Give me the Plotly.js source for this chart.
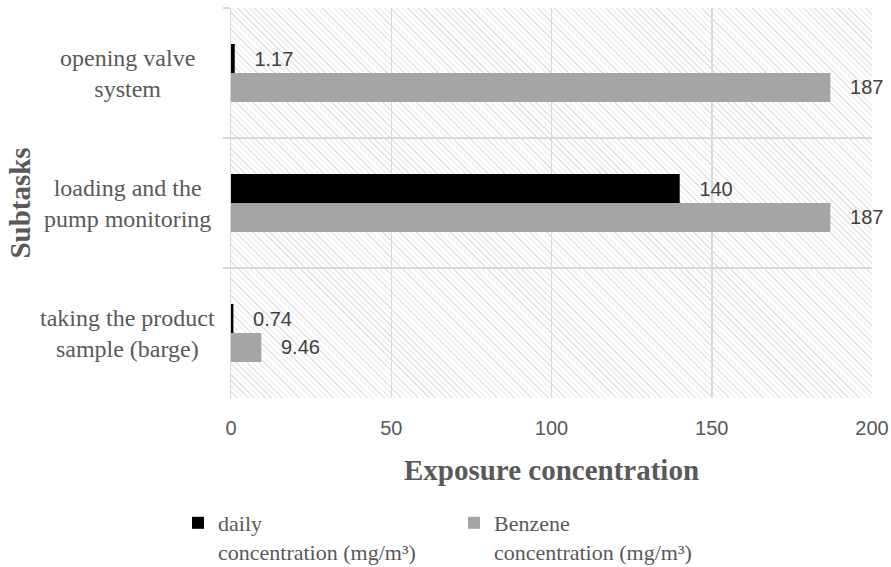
<!DOCTYPE html>
<html>
<head>
<meta charset="utf-8">
<script src="https://cdn.plot.ly/plotly-3.0.1.min.js"></script>
<style>
  html, body { margin: 0; padding: 0; background: #ffffff; }
  #wrap { position: relative; width: 891px; height: 567px; }
  #hatch { position: absolute; z-index: 0;
    background: repeating-linear-gradient(45deg, #e3e3e3 0px, #e3e3e3 1px, rgba(255,255,255,0) 1px, rgba(255,255,255,0) 4px); }
  #chart { position: absolute; left: 0; top: 0; width: 891px; height: 567px; z-index: 1; }
</style>
</head>
<body>
<div id="wrap"><div id="hatch"></div><div id="chart"></div></div>
<script>
// ---- data ----
const categories = ['opening valve system', 'loading and the pump monitoring', 'taking the product sample (barge)'];
const categoryLabels = ['opening valve<br>system', 'loading and the<br>pump monitoring', 'taking the product<br>sample (barge)'];
const dailyValues = [1.17, 140, 0.74];
const benzeneValues = [187, 187, 9.46];
const seriesNames = ['daily<br>concentration (mg/m³)', 'Benzene<br>concentration (mg/m³)'];
const xTickVals = [0, 50, 100, 150, 200];
const xTitle = 'Exposure concentration';
const yTitle = 'Subtasks';

const serif = 'Liberation Serif, Times New Roman, serif';
const sans = 'Liberation Sans, Arial, sans-serif';
const pad = '\u00a0\u00a0\u00a0';

const traces = [
  {
    type: 'bar', orientation: 'h', name: seriesNames[0],
    y: categories, x: dailyValues,
    text: dailyValues.map(String), texttemplate: pad + '%{text}',
    textposition: 'outside', cliponaxis: false, constraintext: 'none',
    textfont: { family: sans, size: 20, color: '#404040' },
    marker: { color: '#000000' }, hoverinfo: 'x'
  },
  {
    type: 'bar', orientation: 'h', name: seriesNames[1],
    y: categories, x: benzeneValues,
    text: benzeneValues.map(String), texttemplate: pad + '%{text}',
    textposition: 'outside', cliponaxis: false, constraintext: 'none',
    textfont: { family: sans, size: 20, color: '#404040' },
    marker: { color: '#a5a5a5' }, hoverinfo: 'x'
  }
];

const margin = { l: 231, r: 19, t: 8, b: 169, autoexpand: false };
const plotW = 891 - margin.l - margin.r;
const plotH = 567 - margin.t - margin.b;

const annotations = categories.map((c, i) => ({
  xref: 'paper', yref: 'y', x: (127 - margin.l) / plotW, y: c,
  text: categoryLabels[i], showarrow: false, xanchor: 'center', yanchor: 'middle',
  align: 'center', font: { family: serif, size: 24, color: '#595959' }
}));

const layout = {
  width: 891, height: 567, margin: margin,
  paper_bgcolor: 'rgba(0,0,0,0)', plot_bgcolor: 'rgba(0,0,0,0)',
  barmode: 'group', bargap: 0.554, bargroupgap: 0,
  showlegend: true,
  legend: {
    orientation: 'h', x: (178 - margin.l) / plotW, xanchor: 'left',
    y: -(502 - (margin.t + plotH)) / plotH, yanchor: 'top',
    valign: 'top', entrywidth: 231, entrywidthmode: 'pixels',
    font: { family: serif, size: 22, color: '#595959' },
    bgcolor: 'rgba(0,0,0,0)', itemclick: false
  },
  xaxis: {
    range: [0, 200], tickvals: xTickVals, ticktext: xTickVals.map(String),
    showgrid: true, gridcolor: '#d9d9d9', gridwidth: 1.5,
    zeroline: false, showline: false, ticks: '',
    ticklabelstandoff: 16,
    tickfont: { family: sans, size: 20, color: '#595959' },
    title: { text: xTitle, standoff: 21, font: { family: serif, size: 29, color: '#595959', weight: 'bold' } },
    automargin: false, fixedrange: true
  },
  yaxis: {
    type: 'category', categoryorder: 'array', categoryarray: categories,
    autorange: 'reversed', tickson: 'boundaries',
    showgrid: true, gridcolor: '#d9d9d9', gridwidth: 1.5,
    showline: true, linecolor: '#d9d9d9', linewidth: 1.5,
    ticks: 'outside', ticklen: 7, tickcolor: '#d9d9d9', tickwidth: 1.5,
    showticklabels: false,
    title: { text: yTitle, standoff: 190, font: { family: serif, size: 29, color: '#595959', weight: 'bold' } },
    automargin: false, fixedrange: true
  },
  annotations: annotations
};

const hatch = document.getElementById('hatch');
hatch.style.left = margin.l + 'px';
hatch.style.top = margin.t + 'px';
hatch.style.width = plotW + 'px';
hatch.style.height = plotH + 'px';

Plotly.newPlot('chart', traces, layout, { displayModeBar: false, staticPlot: true });
</script>
</body>
</html>
